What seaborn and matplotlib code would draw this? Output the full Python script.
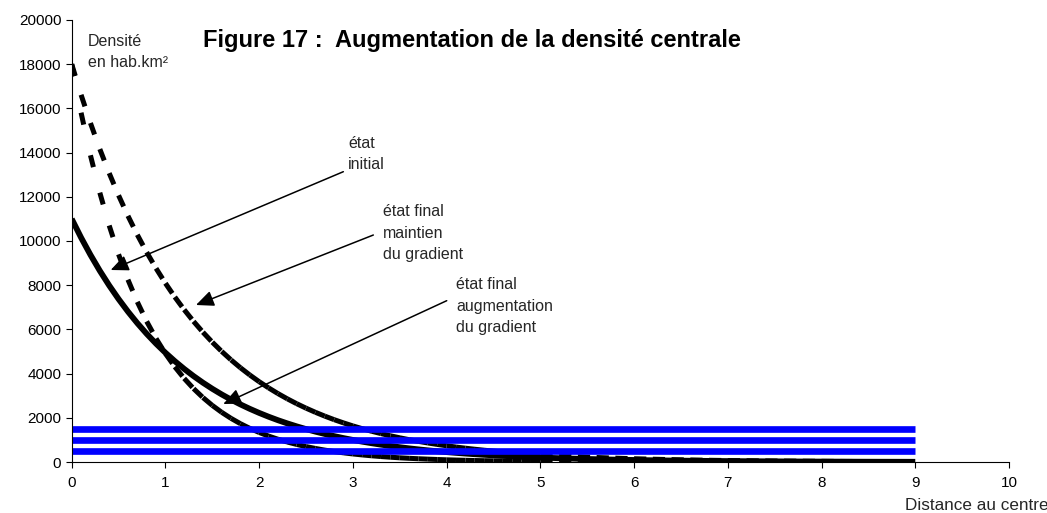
import matplotlib
matplotlib.use("Agg")
import matplotlib.pyplot as plt
import pandas as pd
import seaborn as sns

# ---------------- data ----------------
DISTANCE = [0.0, 0.1, 0.2, 0.3, 0.4, 0.5, 0.6, 0.7, 0.8, 0.9,
            1.0, 1.1, 1.2, 1.3, 1.4, 1.5, 1.6, 1.7, 1.8, 1.9,
            2.0, 2.1, 2.2, 2.3, 2.4, 2.5, 2.6, 2.7, 2.8, 2.9,
            3.0, 3.1, 3.2, 3.3, 3.4, 3.5, 3.6, 3.7, 3.8, 3.9,
            4.0, 4.1, 4.2, 4.3, 4.4, 4.5, 4.6, 4.7, 4.8, 4.9,
            5.0, 5.2, 5.4, 5.6, 5.8, 6.0, 6.2, 6.4, 6.6, 6.8,
            7.0, 7.2, 7.4, 7.6, 7.8, 8.0, 8.2, 8.4, 8.6, 8.8, 9.0]

ETAT_INITIAL = [11000, 10154, 9374, 8653, 7988, 7374, 6807, 6283, 5800, 5354,
                4943, 4563, 4212, 3888, 3589, 3313, 3058, 2823, 2606, 2406,
                2221, 2050, 1892, 1747, 1613, 1489, 1374, 1269, 1171, 1081,
                998, 921, 850, 785, 725, 669, 617, 570, 526, 486,
                448, 414, 382, 353, 326, 301, 277, 256, 236, 218,
                201, 172, 146, 125, 106, 91, 77, 66, 56, 48,
                41, 35, 30, 25, 21, 18, 16, 13, 11, 10, 8]

FINAL_MAINTIEN = [18000, 16616, 15339, 14159, 13071, 12066, 11138, 10282, 9491, 8762,
                  8088, 7466, 6892, 6362, 5873, 5421, 5005, 4620, 4265, 3937,
                  3634, 3355, 3097, 2859, 2639, 2436, 2249, 2076, 1916, 1769,
                  1633, 1507, 1391, 1285, 1186, 1095, 1010, 933, 861, 795,
                  734, 677, 625, 577, 533, 492, 454, 419, 387, 357,
                  330, 281, 239, 204, 174, 148, 126, 108, 92, 78,
                  67, 57, 48, 41, 35, 30, 25, 22, 19, 16, 13]

FINAL_AUGMENTATION = [18000, 15806, 13879, 12187, 10701, 9397, 8251, 7245, 6362, 5587,
                      4906, 4307, 3782, 3321, 2917, 2561, 2249, 1975, 1734, 1523,
                      1337, 1174, 1031, 905, 795, 698, 613, 538, 472, 415,
                      364, 320, 281, 247, 217, 190, 167, 147, 129, 113,
                      99, 87, 77, 67, 59, 52, 46, 40, 35, 31,
                      27, 21, 16, 12, 10, 7, 6, 4, 3, 3,
                      2, 2, 1, 1, 1, 1, 0, 0, 0, 0, 0]

SEUIL_X = [0, 9]
SEUILS = [500, 1000, 1500]

X_TICKS = [0, 1, 2, 3, 4, 5, 6, 7, 8, 9, 10]
Y_TICKS = [0, 2000, 4000, 6000, 8000, 10000, 12000, 14000, 16000, 18000, 20000]

TITLE = "Figure 17 :  Augmentation de la densité centrale"
Y_LABEL_LINES = ["Densité", "en hab.km²"]
X_LABEL = "Distance au centre"

# ---------------- style ----------------
sns.set_style("ticks")
plt.rcParams["font.family"] = ["Liberation Sans", "DejaVu Sans"]
plt.rcParams["lines.scale_dashes"] = False

W, H = 1047, 513
fig = plt.figure(figsize=(W / 100, H / 100), dpi=100)
fig.patch.set_facecolor("white")

ax_l, ax_r, ax_t, ax_b = 71.7, 1009.0, 20.0, 462.0
ax = fig.add_axes([ax_l / W, 1 - ax_b / H, (ax_r - ax_l) / W, (ax_b - ax_t) / H])
ax.set_facecolor("white")


def fx(px):
    return px / W


def fy(py):
    return 1 - py / H


# solid curve: initial state
sns.lineplot(x=DISTANCE, y=ETAT_INITIAL, color="black", linewidth=4.2,
             ax=ax, solid_capstyle="butt")


# dashed curves: each segment restarts its dash pattern (as in the original)
def segment_frame(xs, ys):
    rows = []
    for i in range(len(xs) - 1):
        rows.append((xs[i], ys[i], i))
        rows.append((xs[i + 1], ys[i + 1], i))
    return pd.DataFrame(rows, columns=["x", "y", "seg"])


for serie in (FINAL_MAINTIEN, FINAL_AUGMENTATION):
    n0 = len(ax.lines)
    sns.lineplot(data=segment_frame(DISTANCE, serie), x="x", y="y", units="seg",
                 estimator=None, sort=False, color="black", linewidth=3.6, ax=ax)
    for ln in ax.lines[n0:]:
        ln.set_dashes((8.8, 28.0))
        ln.set_dash_capstyle("butt")

# blue horizontal lines
for lvl in SEUILS:
    sns.lineplot(x=SEUIL_X, y=[lvl, lvl], color="#0000FF", linewidth=4.8,
                 ax=ax, solid_capstyle="butt")

ax.set_xlabel("")
ax.set_ylabel("")
ax.set_xlim(0, 10)
ax.set_ylim(0, 20000)
ax.set_xticks(X_TICKS)
ax.set_xticklabels([str(v) for v in X_TICKS])
ax.set_yticks(Y_TICKS)
ax.set_yticklabels([str(v) for v in Y_TICKS])
ax.tick_params(axis="both", direction="out", length=4.3, width=0.8,
               colors="black", labelsize=11)
ax.tick_params(axis="x", pad=6.0)
ax.tick_params(axis="y", pad=3.2)
for s in ("top", "right"):
    ax.spines[s].set_visible(False)
for s in ("left", "bottom"):
    ax.spines[s].set_linewidth(0.8)
    ax.spines[s].set_color("black")

# ---------------- texts ----------------
fig.text(fx(203), fy(47), TITLE, fontsize=17, fontweight="bold",
         ha="left", va="baseline", color="black")
fig.text(fx(88), fy(46), Y_LABEL_LINES[0], fontsize=11.5, ha="left", va="baseline")
fig.text(fx(88), fy(66.7), Y_LABEL_LINES[1], fontsize=11.5, ha="left", va="baseline")
fig.text(fx(905), fy(509.5), X_LABEL, fontsize=12.3, ha="left", va="baseline")

annotations = [
    (348, [("état", 148), ("initial", 169)],
     (2.898, 13136), (0.416, 8688)),
    (383, [("état final", 216), ("maintien", 238), ("du gradient", 259)],
     (3.218, 10271), (1.326, 7104)),
    (456, [("état final", 289), ("augmentation", 311), ("du gradient", 332)],
     (4.001, 7299), (1.617, 2624)),
]
for left, lines, start, tip in annotations:
    for txt, base in lines:
        fig.text(fx(left), fy(base), txt, fontsize=11.5, ha="left", va="baseline")
    ax.annotate("", xy=tip, xytext=start, xycoords="data", textcoords="data",
                arrowprops=dict(arrowstyle="-|>,head_length=0.45,head_width=0.2",
                                mutation_scale=24, color="black", lw=1.1,
                                shrinkA=0, shrinkB=0),
                annotation_clip=False)

fig.savefig("out.png", dpi=100, facecolor="white")
